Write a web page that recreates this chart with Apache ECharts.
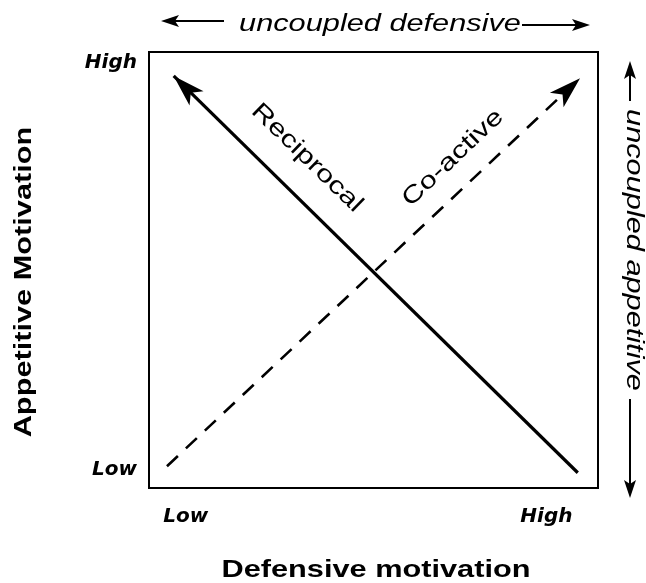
<!DOCTYPE html>
<html>
<head>
<meta charset="utf-8">
<script src="https://cdn.jsdelivr.net/npm/echarts@6/dist/echarts.min.js"></script>
<style>
  html, body { margin: 0; padding: 0; background: #fff; }
  #chart { width: 646px; height: 583px; }
</style>
</head>
<body>
<div id="chart"></div>
<script>
// data (both axes run 0..10)
const reciprocalX = [9.55, 0.55];
const reciprocalY = [0.35, 9.45];
const coactiveX = [0.4, 9.6];
const coactiveY = [0.5, 9.4];
const xTickValues = [0.82, 8.85];
const xTickLabels = ['Low', 'High'];
const yTickValues = [0.42, 9.75];
const yTickLabels = ['Low', 'High'];

const font = '"Liberation Sans", Arial, Helvetica, sans-serif';
const stretch = 1.28; // the original lettering is wider than Arial

const chart = echarts.init(document.getElementById('chart'));

const pickLabel = (values, labels) => (v) => {
  let best = 0;
  values.forEach((t, i) => { if (Math.abs(t - v) < Math.abs(values[best] - v)) best = i; });
  return labels[best];
};

const tickLabelStyle = {
  color: '#000',
  fontFamily: '"DejaVu Sans", sans-serif',
  fontStyle: 'italic',
  fontWeight: 'bold',
  fontSize: 20
};

function pairs(xs, ys) {
  return xs.map((x, i) => [x, ys[i]]);
}

function lineSeries(name, xs, ys, width, type) {
  return {
    name,
    type: 'line',
    data: pairs(xs, ys),
    symbol: 'none',
    showSymbol: true,
    silent: true,
    lineStyle: { color: '#000', width, type, cap: 'butt' },
    itemStyle: { color: '#000' },
    z: 3
  };
}

// small arrow: shaft + head, pixel space annotations outside the plot
function marginArrow(x1, y1, x2, y2) {
  const dx = x2 - x1, dy = y2 - y1;
  const len = Math.hypot(dx, dy);
  const ux = dx / len, uy = dy / len;
  const hl = 18, hw = 6;
  const bx = x2 - ux * hl, by = y2 - uy * hl;
  return [
    { type: 'line', silent: true, shape: { x1, y1, x2: bx + ux * 4, y2: by + uy * 4 }, style: { stroke: '#000', lineWidth: 2 } },
    {
      type: 'polygon', silent: true,
      shape: { points: [[x2, y2], [bx - uy * hw, by + ux * hw], [bx + ux * 4, by + uy * 4], [bx + uy * hw, by - ux * hw]] },
      style: { fill: '#000' }
    }
  ];
}

function text(str, x, y, opts) {
  return {
    type: 'text', silent: true, x, y,
    rotation: opts.rotation || 0,
    scaleX: stretch,
    style: {
      text: str,
      fill: '#000',
      font: (opts.italic ? 'italic ' : '') + (opts.bold ? 'bold ' : '') + (opts.size || 24) + 'px ' + font,
      align: 'center',
      verticalAlign: 'middle'
    }
  };
}

const graphics = [
  text('uncoupled defensive', 380, 24, { italic: true }),
  ...marginArrow(224, 21, 161, 21),
  ...marginArrow(522, 25, 590, 25),
  text('uncoupled appetitive', 634, 250, { italic: true, rotation: -Math.PI / 2 }),
  ...marginArrow(630, 101, 630, 61),
  ...marginArrow(630, 399, 630, 498),
  text('Appetitive Motivation', 24, 282, { bold: true, rotation: Math.PI / 2 }),
  text('Defensive motivation', 376, 570, { bold: true }),
  text('Reciprocal', 307, 158, { rotation: -0.77 }),
  text('Co-active', 453, 158, { rotation: 0.76 })
];

const option = {
  animation: false,
  backgroundColor: '#fff',
  grid: {
    left: 149, right: 48, top: 52, bottom: 95,
    show: true, borderColor: '#000', borderWidth: 2, backgroundColor: 'transparent'
  },
  xAxis: {
    type: 'value', min: 0, max: 10,
    axisLine: { show: false }, axisTick: { show: false }, splitLine: { show: false },
    axisLabel: {
      ...tickLabelStyle,
      margin: 19,
      customValues: xTickValues,
      formatter: pickLabel(xTickValues, xTickLabels)
    }
  },
  yAxis: {
    type: 'value', min: 0, max: 10,
    axisLine: { show: false }, axisTick: { show: false }, splitLine: { show: false },
    axisLabel: {
      ...tickLabelStyle,
      margin: 12,
      customValues: yTickValues,
      formatter: pickLabel(yTickValues, yTickLabels)
    }
  },
  series: [
    lineSeries('Reciprocal', reciprocalX, reciprocalY, 3.2, 'solid'),
    lineSeries('Co-active', coactiveX, coactiveY, 2.6, [15, 11])
  ],
  graphic: graphics
};

chart.setOption(option);

// put an arrowhead at the last point of each line, aimed along it
const heads = [[reciprocalX, reciprocalY], [coactiveX, coactiveY]].map(([xs, ys]) => {
  const n = xs.length;
  const p0 = chart.convertToPixel({ gridIndex: 0 }, [xs[n - 2], ys[n - 2]]);
  const p1 = chart.convertToPixel({ gridIndex: 0 }, [xs[n - 1], ys[n - 1]]);
  const dx = p1[0] - p0[0], dy = p1[1] - p0[1];
  const rot = Math.atan2(-dx, -dy) * 180 / Math.PI;
  const data = pairs(xs, ys);
  data[n - 1] = {
    value: data[n - 1],
    symbol: 'arrow',
    symbolSize: [15, 32],
    symbolRotate: rot
  };
  return { data };
});

chart.setOption({ series: heads });

window.addEventListener('resize', () => chart.resize());
</script>
</body>
</html>
